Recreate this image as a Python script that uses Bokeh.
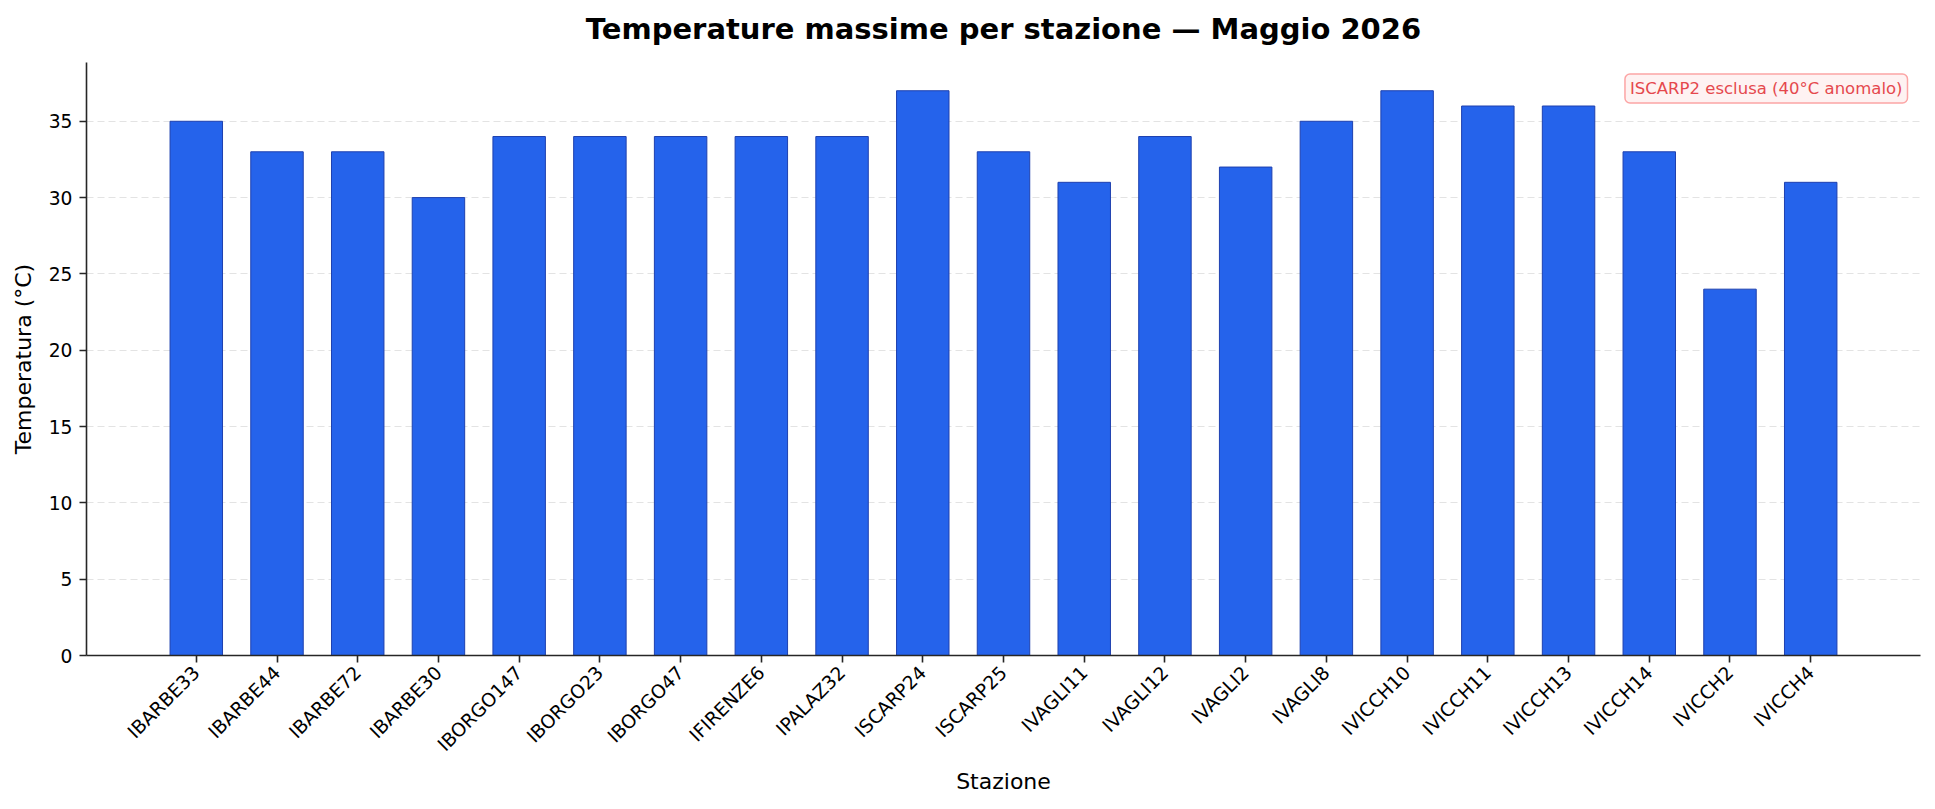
import math
from bokeh.plotting import figure
from bokeh.models import ColumnDataSource, Range1d, FixedTicker, Label
from bokeh.embed import file_html
from bokeh.resources import INLINE

stations = ["IBARBE33", "IBARBE44", "IBARBE72", "IBARBE30", "IBORGO147", "IBORGO23",
            "IBORGO47", "IFIRENZE6", "IPALAZ32", "ISCARP24", "ISCARP25", "IVAGLI11",
            "IVAGLI12", "IVAGLI2", "IVAGLI8", "IVICCH10", "IVICCH11", "IVICCH13",
            "IVICCH14", "IVICCH2", "IVICCH4"]
tmax = [35, 33, 33, 30, 34, 34, 34, 34, 34, 37, 33, 31, 34, 32, 35, 37, 36, 36, 33, 24, 31]
y_ticks = [0, 5, 10, 15, 20, 25, 30, 35]
title_text = "Temperature massime per stazione \u2014 Maggio 2026"
note_text = "ISCARP2 esclusa (40\u00b0C anomalo)"

FONT = "DejaVu Sans"
pos = list(range(len(stations)))
src = ColumnDataSource(dict(x=pos, top=tmax, name=stations))

x_lo, x_hi = -1.36, len(stations) - 1 + 1.36
y_hi = max(tmax) * 1.05

p = figure(width=1935, height=809, output_backend="svg", toolbar_location=None,
           x_range=Range1d(x_lo, x_hi), y_range=Range1d(0, y_hi),
           min_border_left=86, min_border_right=15, min_border_top=62, min_border_bottom=154)
p.outline_line_color = None
p.background_fill_color = "white"
p.border_fill_color = "white"

p.vbar(x="x", top="top", width=0.65, bottom=0, source=src,
       fill_color="#2563eb", line_color="#1e40af", line_width=1)

# title
p.title.text = title_text
p.title.text_font = FONT
p.title.text_font_size = "29px"
p.title.text_font_style = "bold"
p.title.text_color = "#000000"
p.title.align = "center"
p.title.vertical_align = "bottom"
p.title.standoff = 0
p.title.padding = dict(left=0, right=0, top=0, bottom=17)

# axes
for ax in (p.xaxis[0], p.yaxis[0]):
    ax.axis_line_color = "#262626"
    ax.axis_line_width = 1.6
    ax.major_tick_line_color = "#262626"
    ax.major_tick_line_width = 1.6
    ax.major_tick_out = 7
    ax.major_tick_in = 0
    ax.minor_tick_line_color = None
    ax.major_label_standoff = 7
    ax.major_label_text_font = FONT
    ax.major_label_text_color = "#000000"
    ax.major_label_text_font_size = "18.7px"
    ax.axis_label_text_font = FONT
    ax.axis_label_text_font_size = "22px"
    ax.axis_label_text_font_style = "normal"
    ax.axis_label_text_color = "#000000"

p.xaxis.ticker = FixedTicker(ticks=pos)
p.xaxis.major_label_overrides = {i: s for i, s in zip(pos, stations)}
p.xaxis.major_label_orientation = math.pi / 4
p.xaxis.axis_label = "Stazione"
p.xaxis.axis_label_standoff = 3

p.yaxis.ticker = FixedTicker(ticks=y_ticks)
p.yaxis.axis_label = "Temperatura (\u00b0C)"
p.yaxis.axis_label_standoff = 10

# grid
p.xgrid.grid_line_color = None
p.ygrid.grid_line_color = "#e3e3e3"
p.ygrid.grid_line_alpha = 1.0
p.ygrid.grid_line_dash = "7 4"
p.ygrid.grid_line_width = 1.2
p.ygrid.level = "underlay"

# note box
note = Label(x=x_hi, y=y_hi, x_offset=-13, y_offset=-26,
             text=note_text, text_align="right", text_baseline="middle",
             text_font=FONT, text_font_size="16.5px", text_color="#e5484d",
             background_fill_color="#fef2f2", background_fill_alpha=1.0,
             border_line_color="#fca5a5", border_line_width=1.5,
             border_radius=5, padding=5)
p.add_layout(note)

open("out.html", "w").write(file_html(p, INLINE))
